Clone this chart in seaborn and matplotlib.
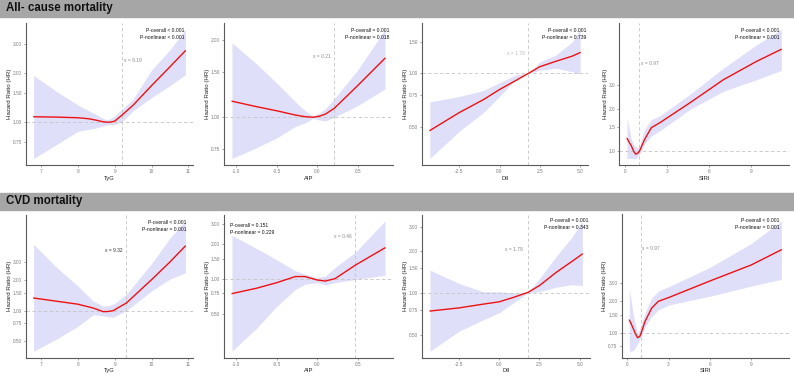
import matplotlib.pyplot as plt
import matplotlib.patches as mpatches
import numpy as np
import pandas as pd
import seaborn as sns

# ---- data (HR with 95% CI) ----
# row 1: all-cause mortality
tyg_all_x = [6.8, 7.4, 8.0, 8.3, 8.5, 8.65, 8.78, 8.9, 9.0, 9.19, 9.5, 10.0, 10.5, 10.92]
tyg_all_hr = [1.075, 1.07, 1.06, 1.045, 1.024, 1.005, 0.995, 0.998, 1.01, 1.096, 1.266, 1.67, 2.18, 2.74]
tyg_all_lo = [0.595, 0.72, 0.874, 0.90, 0.917, 0.94, 0.96, 0.96, 0.96, 1.0, 1.17, 1.41, 1.67, 1.95]
tyg_all_hi = [1.93, 1.55, 1.27, 1.17, 1.11, 1.06, 1.03, 1.05, 1.085, 1.19, 1.38, 2.08, 2.77, 3.7]

aip_all_x = [-1.05, -0.75, -0.5, -0.27, -0.15, -0.05, 0.03, 0.1, 0.21, 0.5, 0.836]
aip_all_hr = [1.155, 1.10, 1.06, 1.02, 1.005, 1.0, 1.01, 1.028, 1.083, 1.33, 1.70]
aip_all_lo = [0.69, 0.76, 0.83, 0.92, 0.95, 0.99, 0.975, 0.967, 1.0, 1.11, 1.29]
aip_all_hi = [1.95, 1.62, 1.36, 1.15, 1.06, 1.01, 1.04, 1.08, 1.18, 1.53, 2.2]

dii_all_x = [-4.32, -2.5, -1.0, 0.0, 1.0, 1.79, 2.5, 3.5, 4.5, 5.0]
dii_all_hr = [0.475, 0.60, 0.71, 0.81, 0.91, 1.0, 1.09, 1.17, 1.25, 1.31]
dii_all_lo = [0.33, 0.47, 0.60, 0.74, 0.92, 1.0, 1.04, 1.07, 1.02, 0.99]
dii_all_hi = [0.69, 0.74, 0.80, 0.886, 0.98, 1.0, 1.16, 1.27, 1.50, 1.77]

siri_all_x = [0.12, 0.28, 0.43, 0.6, 0.74, 0.88, 1.02, 1.2, 1.38, 1.86, 2.45, 4.6, 7.0, 9.36, 11.14]
siri_all_hr = [1.24, 1.16, 1.097, 1.0, 0.957, 0.97, 1.01, 1.11, 1.22, 1.48, 1.60, 2.22, 3.25, 4.39, 5.36]
siri_all_lo = [0.89, 0.89, 0.89, 0.89, 0.89, 0.92, 0.96, 1.04, 1.13, 1.29, 1.40, 1.99, 2.69, 3.25, 3.79]
siri_all_hi = [1.74, 1.45, 1.22, 1.12, 1.08, 1.06, 1.08, 1.28, 1.44, 1.69, 1.79, 2.55, 3.93, 5.76, 7.43]

# row 2: CVD mortality
tyg_cvd_x = [6.8, 7.4, 8.0, 8.42, 8.69, 8.82, 8.96, 9.32, 10.0, 10.5, 10.92]
tyg_cvd_hr = [1.33, 1.24, 1.157, 1.06, 0.977, 0.98, 1.0, 1.19, 2.01, 3.0, 4.31]
tyg_cvd_lo = [0.40, 0.52, 0.70, 0.91, 0.89, 0.87, 0.86, 1.0, 1.56, 2.04, 2.35]
tyg_cvd_hi = [4.48, 2.7, 1.75, 1.24, 1.105, 1.12, 1.15, 1.45, 2.89, 5.15, 7.57]

aip_cvd_x = [-1.05, -0.75, -0.5, -0.27, -0.15, 0.0, 0.1, 0.22, 0.47, 0.836]
aip_cvd_hr = [0.746, 0.83, 0.928, 1.05, 1.05, 0.98, 0.96, 1.007, 1.32, 1.87]
aip_cvd_lo = [0.235, 0.37, 0.576, 0.81, 0.90, 0.93, 0.89, 0.93, 0.99, 1.08]
aip_cvd_hi = [2.40, 1.85, 1.47, 1.18, 1.10, 1.03, 1.06, 1.26, 1.71, 3.20]

dii_cvd_x = [-4.32, -2.5, -1.0, 0.0, 0.9, 1.79, 2.5, 3.55, 4.5, 5.17]
dii_cvd_hr = [0.74, 0.78, 0.83, 0.863, 0.93, 1.01, 1.13, 1.41, 1.68, 1.91]
dii_cvd_lo = [0.38, 0.53, 0.64, 0.72, 0.85, 1.0, 1.02, 1.10, 1.146, 1.13]
dii_cvd_hi = [1.46, 1.17, 1.02, 1.02, 1.0, 1.01, 1.27, 1.84, 2.51, 3.30]

siri_cvd_x = [0.15, 0.3, 0.44, 0.6, 0.75, 0.92, 1.1, 1.28, 1.77, 2.25, 3.1, 6.0, 9.0, 11.2]
siri_cvd_hr = [1.33, 1.21, 1.10, 0.98, 0.90, 0.93, 1.08, 1.28, 1.72, 2.0, 2.2, 3.13, 4.45, 6.22]
siri_cvd_lo = [0.67, 0.67, 0.68, 0.73, 0.79, 0.88, 1.0, 1.14, 1.43, 1.66, 1.86, 2.24, 2.8, 3.25]
siri_cvd_hi = [2.64, 1.95, 1.48, 1.2, 1.0, 1.10, 1.3, 1.54, 2.16, 2.5, 2.8, 4.22, 7.12, 11.7]

row_titles = ["All- cause mortality", "CVD mortality"]
x_labels = ["TyG", "AIP", "DII", "SIRI", "TyG", "AIP", "DII", "SIRI"]
ref_x = [9.19, 0.21, 1.79, 0.97, 9.32, 0.46, 1.79, 0.97]
p_overall = ["< 0.001", "= 0.001", "< 0.001", "< 0.001", "< 0.001", "= 0.151", "= 0.001", "< 0.001"]
p_nonlinear = ["< 0.001", "= 0.018", "= 0.739", "= 0.001", "= 0.001", "= 0.229", "= 0.343", "= 0.001"]
x_ticks = [[7, 8, 9, 10, 11], [-1.0, -0.5, 0.0, 0.5], [-2.5, 0.0, 2.5, 5.0], [0, 3, 6, 9]] * 2
y_breaks = [0.5, 0.75, 1.0, 1.5, 2.0, 3.0]

panels = [
    (tyg_all_x, tyg_all_hr, tyg_all_lo, tyg_all_hi),
    (aip_all_x, aip_all_hr, aip_all_lo, aip_all_hi),
    (dii_all_x, dii_all_hr, dii_all_lo, dii_all_hi),
    (siri_all_x, siri_all_hr, siri_all_lo, siri_all_hi),
    (tyg_cvd_x, tyg_cvd_hr, tyg_cvd_lo, tyg_cvd_hi),
    (aip_cvd_x, aip_cvd_hr, aip_cvd_lo, aip_cvd_hi),
    (dii_cvd_x, dii_cvd_hr, dii_cvd_lo, dii_cvd_hi),
    (siri_cvd_x, siri_cvd_hr, siri_cvd_lo, siri_cvd_hi),
]

# ---- layout (pixels) ----
W, H = 794, 376
boxes = [  # left, right, top, bottom
    (26, 193, 23, 165), (224.3, 392.7, 23, 165), (422.3, 587.7, 23, 165), (619.3, 789, 23, 165),
    (26, 193, 214.5, 357.7), (224.3, 392.7, 214.5, 357.7), (422.3, 590, 214.5, 357.7), (621.7, 789, 214.5, 357.7),
]
# where the p-value block and the "x = ..." label sit
p_pos = [(0.95, 0.948, "right"), (0.98, 0.946, "right"), (0.994, 0.946, "right"), (0.945, 0.946, "right"),
         (0.96, 0.947, "right"), (0.036, 0.926, "left"), (0.99, 0.958, "right"), (0.944, 0.958, "right")]
ref_lab = [(9.49, 2.38), (0.053, 1.73), (1.04, 1.30), (1.74, 4.22),
           (8.97, 3.87), (0.32, 2.36), (0.90, 2.06), (1.74, 6.36)]
ref_col = ["#8a8a8a", "#8a8a8a", "#b8b8b8", "#8a8a8a", "#333333", "#8a8a8a", "#8a8a8a", "#8a8a8a"]

sns.set_theme(style="ticks")
plt.rcParams["font.family"] = ["Liberation Sans", "DejaVu Sans"]

fig = plt.figure(figsize=(W / 100, H / 100), dpi=100)

# grey header bars
for (y0, y1), title in zip([(0, 17), (193, 209.5)], row_titles):
    fig.patches.append(mpatches.Rectangle((0, 1 - y1 / H), 1, (y1 - y0) / H,
                                          transform=fig.transFigure, color="#a6a6a6", zorder=0))
    fig.text(6 / W, 1 - (y0 + y1) / 2 / H, title, fontsize=8.3, fontweight="bold",
             va="center", ha="left", color="#111111")

for i, (xs, hr, lo, hi) in enumerate(panels):
    l, r, t, b = boxes[i]
    ax = fig.add_axes([l / W, 1 - b / H, (r - l) / W, (b - t) / H])
    df = pd.DataFrame({"x": xs, "hr": hr, "lo": lo, "hi": hi})

    ax.fill_between(df["x"], df["lo"], df["hi"], color="#dfdff9", linewidth=0, zorder=1)
    sns.lineplot(data=df, x="x", y="hr", ax=ax, color="#ee1111", linewidth=1.0, zorder=3)

    ax.axhline(1, color="#c4c4c4", linewidth=0.6, linestyle=(0, (4, 3)), zorder=2)
    ax.axvline(ref_x[i], color="#c4c4c4", linewidth=0.6, linestyle=(0, (4, 3)), zorder=2)

    ax.set_yscale("log")
    xr = max(xs) - min(xs)
    ax.set_xlim(min(xs) - 0.05 * xr, max(xs) + 0.05 * xr)
    lmin, lmax = np.log(min(lo)), np.log(max(hi))
    ax.set_ylim(np.exp(lmin - 0.05 * (lmax - lmin)), np.exp(lmax + 0.05 * (lmax - lmin)))
    y0, y1 = ax.get_ylim()
    yt = [v for v in y_breaks if y0 <= v <= y1]
    ax.set_yticks(yt)
    fmt = "{:.1f}" if i == 3 else "{:.2f}"
    ax.set_yticklabels([fmt.format(v) for v in yt])
    ax.minorticks_off()
    ax.set_xticks(x_ticks[i])
    if i in (0, 3, 4, 7):
        ax.set_xticklabels([str(v) for v in x_ticks[i]])
    else:
        ax.set_xticklabels(["{:.1f}".format(v) for v in x_ticks[i]])

    sns.despine(ax=ax)
    for s in ("left", "bottom"):
        ax.spines[s].set_color("#5a5a5a")
        ax.spines[s].set_linewidth(0.8)
    ax.tick_params(axis="both", length=1.5, width=0.5, color="#7a7a7a", labelsize=3.4,
                   labelcolor="#7a7a7a", pad=1.5)
    ax.set_xlabel(x_labels[i], fontsize=4.2, color="#222222", labelpad=1)
    ax.set_ylabel("Hazard Ratio (HR)", fontsize=4.4, color="#222222", labelpad=0.5)

    px, py, ha = p_pos[i]
    ax.text(px, py, "P-overall " + p_overall[i], transform=ax.transAxes, ha=ha, va="center",
            fontsize=3.6, color="#111111")
    ax.text(px, py - 0.05, "P-nonlinear " + p_nonlinear[i], transform=ax.transAxes, ha=ha,
            va="center", fontsize=3.6, color="#111111")
    ax.text(ref_lab[i][0], ref_lab[i][1], "x = {:.2f}".format(ref_x[i]), ha="center",
            va="center", fontsize=3.5, color=ref_col[i])

fig.savefig("out.png", dpi=100)
